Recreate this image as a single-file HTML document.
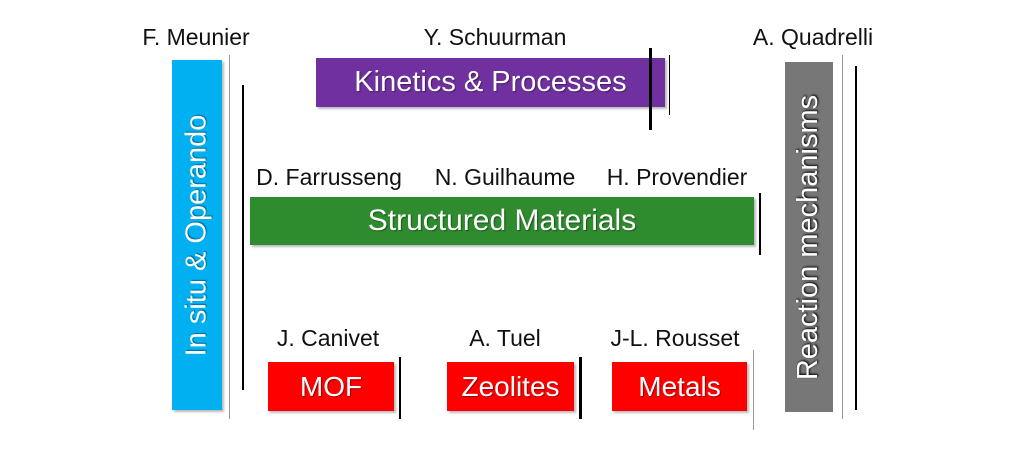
<!DOCTYPE html>
<html><head><meta charset="utf-8"><style>
body{margin:0;width:1024px;height:451px;background:#fff;position:relative;overflow:hidden;font-family:"Liberation Sans",sans-serif}
.t{position:absolute;color:#111;font-size:23px;white-space:nowrap;transform:translateX(-50%)}
.b{position:absolute;color:#fff;display:flex;align-items:center;justify-content:center;font-size:28px;text-shadow:1px 1px 1px rgba(0,0,0,.4);box-shadow:2px 2px 2px #bbb;white-space:nowrap}
.l{position:absolute;background:#000}
.g{position:absolute;background:#999}
.v{transform:rotate(-90deg);white-space:nowrap}
</style></head><body>
<div class="t" style="left:196px;top:24px">F. Meunier</div>
<div class="t" style="left:495px;top:24px">Y. Schuurman</div>
<div class="t" style="left:813px;top:24px">A. Quadrelli</div>
<div class="t" style="left:329px;top:164px">D. Farrusseng</div>
<div class="t" style="left:505px;top:164px">N. Guilhaume</div>
<div class="t" style="left:677px;top:164px">H. Provendier</div>
<div class="t" style="left:328px;top:325px">J. Canivet</div>
<div class="t" style="left:505px;top:325px">A. Tuel</div>
<div class="t" style="left:675px;top:325px">J-L. Rousset</div>

<div class="b" style="left:172px;top:60px;width:50px;height:350px;background:#00b0f0"><div class="v" style="font-size:29px">In situ &amp; Operando</div></div>
<div class="g" style="left:229px;top:55px;width:1px;height:364px"></div>
<div class="l" style="left:242px;top:85px;width:2px;height:305px"></div>

<div class="b" style="left:316px;top:58px;width:349px;height:49px;background:#7030a0;font-size:29px">Kinetics &amp; Processes</div>
<div class="l" style="left:649px;top:48px;width:3px;height:82px"></div>
<div class="l" style="left:669px;top:55px;width:1px;height:60px"></div>

<div class="b" style="left:250px;top:197px;width:504px;height:48px;background:#2e8b2e;font-size:30px">Structured Materials</div>
<div class="l" style="left:759px;top:193px;width:2px;height:62px"></div>

<div class="b" style="left:268px;top:362px;width:126px;height:49px;background:#ff0000">MOF</div>
<div class="l" style="left:399px;top:357px;width:2px;height:62px"></div>
<div class="b" style="left:447px;top:362px;width:127px;height:49px;background:#ff0000">Zeolites</div>
<div class="l" style="left:579px;top:357px;width:3px;height:62px"></div>
<div class="b" style="left:612px;top:362px;width:135px;height:49px;background:#ff0000">Metals</div>
<div class="g" style="left:753px;top:350px;width:1px;height:80px"></div>

<div class="b" style="left:785px;top:62px;width:48px;height:350px;background:#777;box-shadow:none"><div class="v" style="font-size:29px;text-shadow:1px 1px 2px #000">Reaction mechanisms</div></div>
<div class="g" style="left:842px;top:55px;width:1px;height:364px"></div>
<div class="l" style="left:855px;top:66px;width:2px;height:344px"></div>
</body></html>
